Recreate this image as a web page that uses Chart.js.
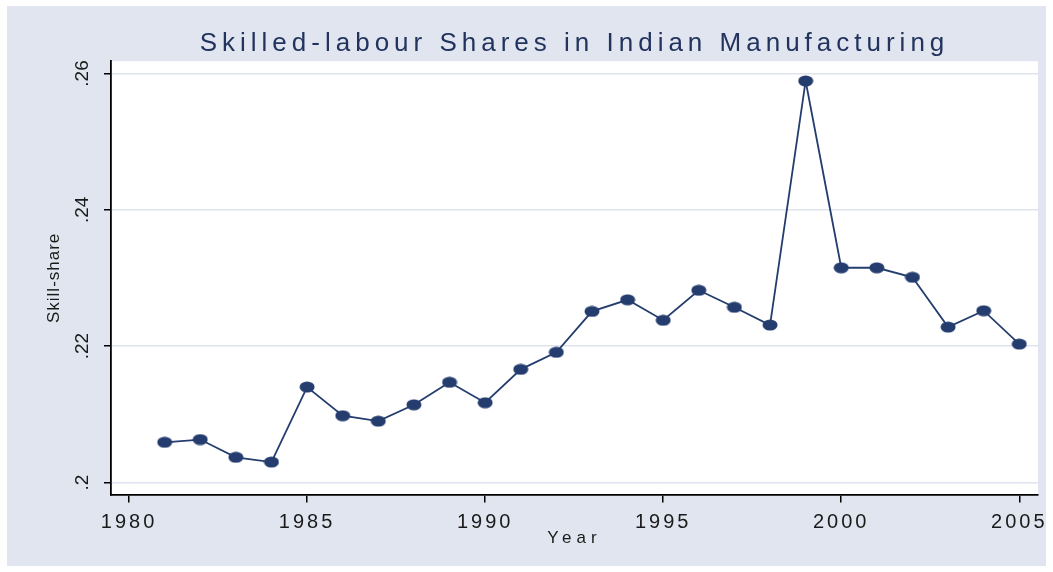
<!DOCTYPE html>
<html>
<head>
<meta charset="utf-8">
<script src="https://cdn.jsdelivr.net/npm/chart.js@4.4.1/dist/chart.umd.min.js"></script>
<style>
  html, body { margin: 0; padding: 0; background: #ffffff; }
  #wrap { position: relative; width: 1053px; height: 572px; }
</style>
</head>
<body>
<div id="wrap"><canvas id="c" width="1053" height="572"></canvas></div>
<script>
// ---- data ----
const years = [1981, 1982, 1983, 1984, 1985, 1986, 1987, 1988, 1989, 1990,
               1991, 1992, 1993, 1994, 1995, 1996, 1997, 1998, 1999, 2000,
               2001, 2002, 2003, 2004, 2005];
const skillShare = [0.2059, 0.2063, 0.2037, 0.2030, 0.2140, 0.2098, 0.2090, 0.2114, 0.2147, 0.2117,
                    0.2166, 0.2191, 0.2251, 0.2268, 0.2238, 0.2282, 0.2257, 0.2231, 0.2589, 0.2315,
                    0.2315, 0.2301, 0.2228, 0.2252, 0.2203];
const xTickValues = [1980, 1985, 1990, 1995, 2000, 2005];
const xTickLabels = ['1980', '1985', '1990', '1995', '2000', '2005'];
const yTickValues = [0.20, 0.22, 0.24, 0.26];
const yTickLabels = ['.2', '.22', '.24', '.26'];
const chartTitle = 'Skilled-labour Shares in Indian Manufacturing';
const xAxisTitle = 'Year';
const yAxisTitle = 'Skill-share';

// ---- styles ----
const NAVY = '#243d6e';
const PANEL = '#e0e5ef';
const GRID = '#dfe3ee';
const FONT = "'Liberation Sans', Arial, sans-serif";

// elliptical marker
const marker = document.createElement('canvas');
marker.width = 16; marker.height = 12;
(function () {
  const m = marker.getContext('2d');
  m.fillStyle = NAVY;
  m.beginPath();
  m.ellipse(8, 6, 7.5, 5.5, 0, 0, Math.PI * 2);
  m.fill();
})();

const bgPlugin = {
  id: 'bg',
  beforeDraw(chart) {
    const ctx = chart.ctx;
    const {width, height} = chart;
    ctx.save();
    ctx.fillStyle = '#ffffff';
    ctx.fillRect(0, 0, width, height);
    ctx.fillStyle = PANEL;
    ctx.fillRect(7, 6, width - 14, height - 12);
    const a = chart.chartArea;
    ctx.fillStyle = '#ffffff';
    ctx.fillRect(a.left, a.top, a.right - a.left, a.bottom - a.top);
    ctx.restore();

    // letter spacing for some texts
    const patch = (obj, name, sp) => {
      if (!obj || obj['__patched_' + name]) return;
      const orig = obj[name];
      obj[name] = function (...args) {
        const c = chart.ctx;
        c.save();
        c.letterSpacing = sp;
        const r = orig.apply(this, args);
        c.restore();
        return r;
      };
      obj['__patched_' + name] = true;
    };
    patch(chart.scales.x, 'drawLabels', '3px');
    patch(chart.scales.x, 'drawTitle', '5px');
    patch(chart.scales.y, 'drawTitle', '1px');
    patch(chart.titleBlock, 'draw', '5px');
  }
};

Chart.defaults.font.family = FONT;

new Chart(document.getElementById('c'), {
  type: 'line',
  data: {
    datasets: [{
      data: years.map((y, i) => ({x: y, y: skillShare[i]})),
      borderColor: NAVY,
      borderWidth: 1.8,
      pointStyle: marker,
      pointRadius: 6,
      pointHoverRadius: 6,
      tension: 0,
      clip: false
    }]
  },
  options: {
    responsive: false,
    animation: false,
    events: [],
    layout: { padding: { left: 7, right: 15, top: 28, bottom: 7 } },
    plugins: {
      legend: { display: false },
      tooltip: { enabled: false },
      title: {
        display: true,
        text: chartTitle,
        fullSize: false,
        color: '#22335e',
        font: { size: 26, weight: 'normal', family: FONT },
        padding: { top: 0, bottom: 2 }
      }
    },
    scales: {
      x: {
        type: 'linear',
        min: 1979.494,
        max: 2005.525,
        afterBuildTicks: s => { s.ticks = xTickValues.map(v => ({value: v})); },
        afterFit: s => { s.height = 70.5; },
        ticks: {
          includeBounds: false,
          color: '#1a1a1a',
          font: { size: 20 },
          padding: 8,
          maxRotation: 0,
          autoSkip: false,
          callback: (v, i) => xTickLabels[i]
        },
        grid: {
          display: true,
          drawOnChartArea: false,
          drawTicks: true,
          tickLength: 8,
          tickColor: '#000000',
          lineWidth: 1.5
        },
        border: { display: true, color: '#000000', width: 1.8 },
        title: {
          display: true,
          text: xAxisTitle,
          color: '#1a1a1a',
          font: { size: 17 },
          padding: { top: 0, bottom: 16 }
        }
      },
      y: {
        type: 'linear',
        min: 0.19824,
        max: 0.2618,
        afterBuildTicks: s => { s.ticks = yTickValues.map(v => ({value: v})); },
        afterFit: s => { s.width = 104; },
        ticks: {
          includeBounds: false,
          color: '#1a1a1a',
          font: { size: 19 },
          padding: 8,
          minRotation: 90,
          maxRotation: 90,
          crossAlign: 'center',
          autoSkip: false,
          callback: (v, i) => yTickLabels[i]
        },
        grid: {
          display: true,
          drawOnChartArea: true,
          drawTicks: true,
          tickLength: 7,
          color: GRID,
          tickColor: '#000000',
          lineWidth: 1.5
        },
        border: { display: true, color: '#000000', width: 1.8 },
        title: {
          display: true,
          text: yAxisTitle,
          color: '#1a1a1a',
          font: { size: 17 },
          padding: { top: 37, bottom: 0 }
        }
      }
    }
  },
  plugins: [bgPlugin]
});
</script>
</body>
</html>
